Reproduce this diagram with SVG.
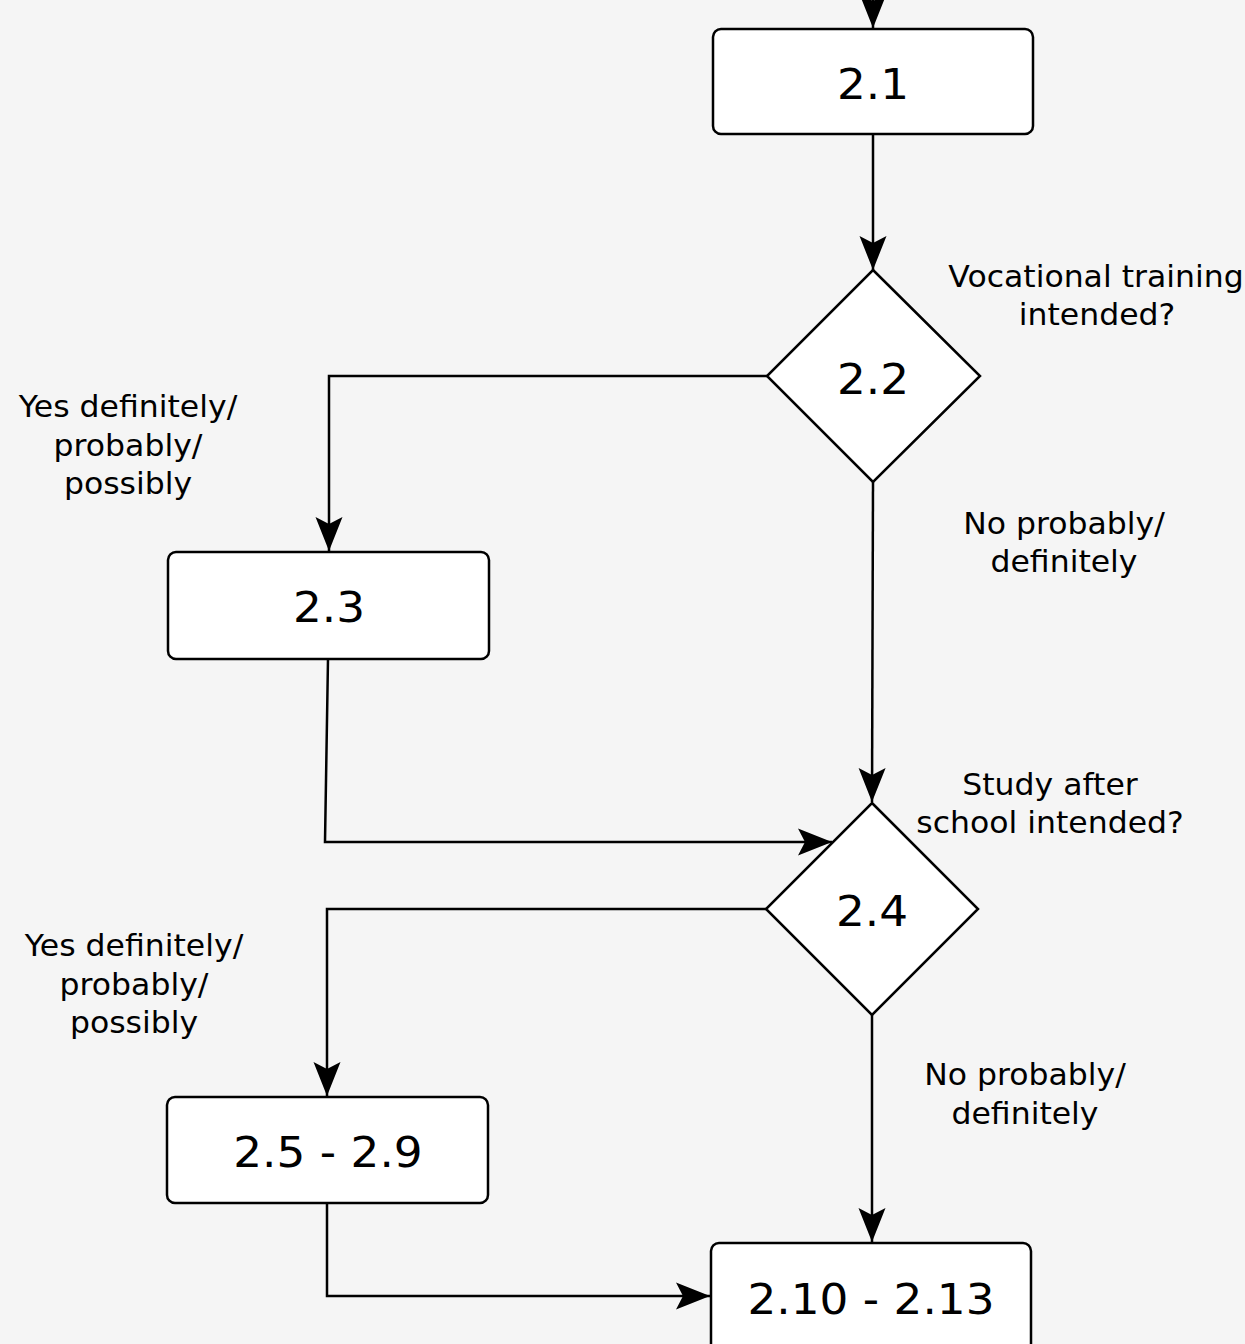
<svg xmlns="http://www.w3.org/2000/svg" width="1245" height="1344" viewBox="0 0 1245 1344">
  <style>
    .box { fill: #ffffff; stroke: #000000; stroke-width: 2.5; }
    .num { font-family: "DejaVu Sans", Verdana, sans-serif; font-size: 43px; fill: #000000; text-anchor: middle; }
    .lbl { font-family: "DejaVu Sans", Verdana, sans-serif; font-size: 30px; fill: #000000; text-anchor: middle; }
    .edge { fill: none; stroke: #000000; stroke-width: 2.5; marker-end: url(#arrow); }
  </style>
  <defs>
    <marker id="arrow" markerUnits="userSpaceOnUse" viewBox="-36 -15 37 30" markerWidth="37" markerHeight="30" refX="0" refY="0" orient="auto">
      <path d="M0,0 L-34,-13.5 L-27,0 L-34,13.5 Z" fill="#000000"/>
    </marker>
  </defs>
  <rect x="0" y="0" width="1245" height="1344" fill="#f5f5f5"/>

  <g id="connectors">
    <path class="edge" d="M873,-20 L873,28"/>
    <path class="edge" d="M873,134 L873,270"/>
    <path class="edge" d="M767,376 L329,376 L329,551"/>
    <path class="edge" d="M873,482 L872,802"/>
    <path class="edge" d="M328,659 L325,842 L832,842"/>
    <path class="edge" d="M766,909 L327,909 L327,1096"/>
    <path class="edge" d="M872,1015 L872,1242"/>
    <path class="edge" d="M327,1203 L327,1296 L710,1296"/>
  </g>

  <g id="node-2-1">
    <rect class="box" x="713" y="29" width="320" height="105" rx="8"/>
    <text class="num" transform="translate(873,99) scale(1.055,1)">2.1</text>
  </g>

  <g id="node-2-2">
    <polygon class="box" points="873,270 980,376 873,482 767,376"/>
    <text class="num" transform="translate(873,394) scale(1.055,1)">2.2</text>
  </g>

  <g id="node-2-3">
    <rect class="box" x="168" y="552" width="321" height="107" rx="8"/>
    <text class="num" transform="translate(329,622) scale(1.055,1)">2.3</text>
  </g>

  <g id="node-2-4">
    <polygon class="box" points="872,803 978,909 872,1015 766,909"/>
    <text class="num" transform="translate(872,926) scale(1.055,1)">2.4</text>
  </g>

  <g id="node-2-5-2-9">
    <rect class="box" x="167" y="1097" width="321" height="106" rx="8"/>
    <text class="num" transform="translate(328,1167) scale(1.055,1)">2.5 - 2.9</text>
  </g>

  <g id="node-2-10-2-13">
    <rect class="box" x="711" y="1243" width="320" height="112" rx="8"/>
    <text class="num" transform="translate(871,1314) scale(1.055,1)">2.10 - 2.13</text>
  </g>

  <g id="labels">
    <text class="lbl" transform="translate(1096,287) scale(1.05,1)">Vocational training</text>
    <text class="lbl" transform="translate(1097,325) scale(1.05,1)">intended?</text>

    <text class="lbl" transform="translate(128,417) scale(1.05,1)">Yes definitely/</text>
    <text class="lbl" transform="translate(128,455.5) scale(1.05,1)">probably/</text>
    <text class="lbl" transform="translate(128,494) scale(1.05,1)">possibly</text>

    <text class="lbl" transform="translate(1064,534) scale(1.05,1)">No probably/</text>
    <text class="lbl" transform="translate(1064,572) scale(1.05,1)">definitely</text>

    <text class="lbl" transform="translate(1050,795) scale(1.05,1)">Study after</text>
    <text class="lbl" transform="translate(1050,833) scale(1.05,1)">school intended?</text>

    <text class="lbl" transform="translate(134,956) scale(1.05,1)">Yes definitely/</text>
    <text class="lbl" transform="translate(134,994.5) scale(1.05,1)">probably/</text>
    <text class="lbl" transform="translate(134,1033) scale(1.05,1)">possibly</text>

    <text class="lbl" transform="translate(1025,1085) scale(1.05,1)">No probably/</text>
    <text class="lbl" transform="translate(1025,1124) scale(1.05,1)">definitely</text>
  </g>
</svg>
